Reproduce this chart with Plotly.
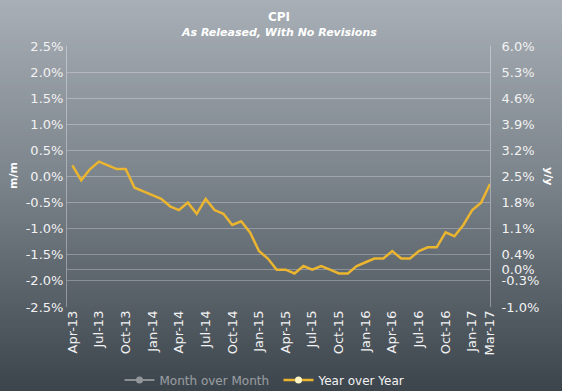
import plotly.graph_objects as go

# Release months (x categories)
months = [
    "Apr-13", "May-13", "Jun-13", "Jul-13", "Aug-13", "Sep-13", "Oct-13", "Nov-13", "Dec-13",
    "Jan-14", "Feb-14", "Mar-14", "Apr-14", "May-14", "Jun-14", "Jul-14", "Aug-14", "Sep-14",
    "Oct-14", "Nov-14", "Dec-14",
    "Jan-15", "Feb-15", "Mar-15", "Apr-15", "May-15", "Jun-15", "Jul-15", "Aug-15", "Sep-15",
    "Oct-15", "Nov-15", "Dec-15",
    "Jan-16", "Feb-16", "Mar-16", "Apr-16", "May-16", "Jun-16", "Jul-16", "Aug-16", "Sep-16",
    "Oct-16", "Nov-16", "Dec-16",
    "Jan-17", "Feb-17", "Mar-17",
]

# Year over Year CPI, % (as released)
yoy = [
    2.8, 2.4, 2.7, 2.9, 2.8, 2.7, 2.7, 2.2, 2.1,
    2.0, 1.9, 1.7, 1.6, 1.8, 1.5, 1.9, 1.6, 1.5,
    1.2, 1.3, 1.0,
    0.5, 0.3, 0.0, 0.0, -0.1, 0.1, 0.0, 0.1, 0.0,
    -0.1, -0.1, 0.1,
    0.2, 0.3, 0.3, 0.5, 0.3, 0.3, 0.5, 0.6, 0.6,
    1.0, 0.9, 1.2,
    1.6, 1.8, 2.3,
]

x_ticks = ["Apr-13", "Jul-13", "Oct-13", "Jan-14", "Apr-14", "Jul-14", "Oct-14", "Jan-15",
           "Apr-15", "Jul-15", "Oct-15", "Jan-16", "Apr-16", "Jul-16", "Oct-16", "Jan-17", "Mar-17"]

left_ticks = [2.5, 2.0, 1.5, 1.0, 0.5, 0.0, -0.5, -1.0, -1.5, -2.0, -2.5]
right_ticks = [6.0, 5.3, 4.6, 3.9, 3.2, 2.5, 1.8, 1.1, 0.4, 0.0, -0.3, -1.0]

W, H = 562, 391
L, R, T, B = 67, 72, 46, 84
pw, ph = W - L - R, H - T - B

FONT = "DejaVu Sans, Verdana, sans-serif"
LINE = "#ecb530"
TXT = "#f2f2f2"

fig = go.Figure()

# hidden Month over Month series (legend only)
fig.add_trace(go.Scatter(
    x=[None], y=[None], name="Month over Month", mode="lines+markers",
    line=dict(color="#d8d8d8", width=2), marker=dict(color="#e8e8e8", size=7),
    visible="legendonly", yaxis="y",
))
# Year over Year line
fig.add_trace(go.Scatter(
    x=months, y=yoy, name="Year over Year", mode="lines",
    line=dict(color=LINE, width=2.5), yaxis="y2", showlegend=False,
    hovertemplate="%{x}: %{y:.1f}%<extra></extra>",
))
# legend entry for Year over Year
fig.add_trace(go.Scatter(
    x=[None], y=[None], name="Year over Year", mode="lines+markers",
    line=dict(color=LINE, width=2.5), marker=dict(color="#fff6c8", size=7),
    yaxis="y2",
))

# gradient background bands
def lerp(c1, c2, t):
    return tuple(round(a + (b - a) * t) for a, b in zip(c1, c2))

stops = [(0, (168, 175, 182)), (180, (123, 131, 139)), (391, (60, 68, 76))]
def color_at(yp):
    for (y1, c1), (y2, c2) in zip(stops[:-1], stops[1:]):
        if yp <= y2:
            return lerp(c1, c2, (yp - y1) / (y2 - y1))
    return stops[-1][1]

shapes = []
step = 3
for y0 in range(0, H, step):
    y1 = min(H, y0 + step)
    c = color_at((y0 + y1) / 2)
    shapes.append(dict(
        type="rect", xref="paper", yref="paper", layer="below",
        x0=-L / pw - 0.01, x1=1 + R / pw + 0.01,
        y0=(H - B - y1) / ph - 0.001, y1=(H - B - y0) / ph + 0.001,
        fillcolor="rgb(%d,%d,%d)" % c, line=dict(width=0),
    ))

fig.update_layout(
    width=W, height=H,
    margin=dict(l=L, r=R, t=T, b=B, autoexpand=False),
    paper_bgcolor="rgb(120,128,136)",
    plot_bgcolor="rgba(0,0,0,0)",
    font=dict(family=FONT, size=13, color=TXT),
    shapes=shapes,
    showlegend=True,
    legend=dict(orientation="h", x=0.5, xanchor="center", y=(H - B - 380) / ph, yanchor="middle",
                font=dict(family=FONT, size=12, color=TXT), bgcolor="rgba(0,0,0,0)",
                itemwidth=30, entrywidth=114),
    xaxis=dict(
        type="category", categoryorder="array", categoryarray=months,
        range=[-0.6, len(months) - 1],
        tickmode="array", tickvals=x_ticks, ticktext=x_ticks,
        tickangle=-90, showgrid=False, showline=False, zeroline=False, ticks="",
        tickfont=dict(family=FONT, size=13, color=TXT),
    ),
    yaxis=dict(
        range=[-2.5, 2.5], tickmode="array", tickvals=left_ticks,
        ticktext=["%.1f%%" % v for v in left_ticks],
        showgrid=False, zeroline=False, showline=True, linecolor="rgba(255,255,255,0.35)",
        linewidth=1, ticks="", tickfont=dict(family=FONT, size=13, color=TXT),
    ),
    yaxis2=dict(
        range=[-1.0, 6.0], overlaying="y", side="right", tickmode="array",
        tickvals=right_ticks, ticktext=["%.1f%%" % v for v in right_ticks],
        showgrid=True, gridcolor="rgba(255,255,255,0.28)", gridwidth=1,
        zeroline=False, showline=True, linecolor="rgba(255,255,255,0.35)", linewidth=1,
        ticks="", ticklabelstandoff=8, tickfont=dict(family=FONT, size=13, color=TXT),
    ),
    annotations=[
        dict(text="<b>CPI</b>", xref="paper", yref="paper", x=0.5, y=(H - B - 17) / ph,
             showarrow=False, font=dict(family=FONT, size=12, color="#ffffff"), yanchor="middle"),
        dict(text="<b><i>As Released, With No Revisions</i></b>", xref="paper", yref="paper",
             x=0.5, y=(H - B - 32) / ph, showarrow=False,
             font=dict(family=FONT, size=11, color="#ffffff"), yanchor="middle"),
        dict(text="<b>m/m</b>", xref="paper", yref="paper", x=(13 - L) / pw, y=(H - B - 176) / ph,
             showarrow=False, textangle=-90, font=dict(family=FONT, size=11, color="#ffffff"),
             xanchor="center", yanchor="middle"),
        dict(text="<b>y/y</b>", xref="paper", yref="paper", x=(549 - L) / pw, y=(H - B - 176) / ph,
             showarrow=False, textangle=90, font=dict(family=FONT, size=11, color="#ffffff"),
             xanchor="center", yanchor="middle"),
    ],
)

fig.write_html(
    "out.html",
    config={"displayModeBar": False},
    post_script="document.body.style.margin='0px';document.body.style.overflow='hidden';",
)
